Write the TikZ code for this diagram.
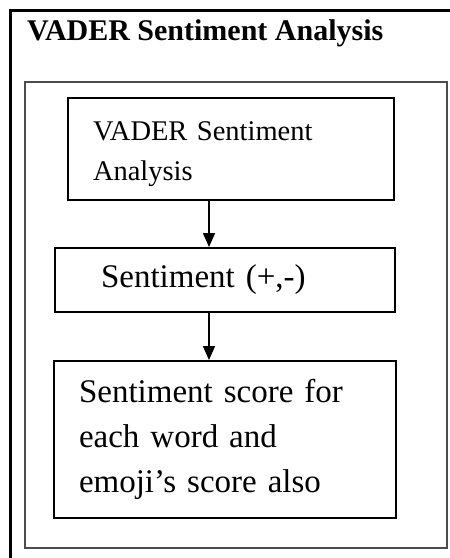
\documentclass[tikz,border=0pt]{standalone}
\usepackage{fontspec}
\setmainfont{Liberation Serif}
\usetikzlibrary{calc, arrows.meta}

\begin{document}
\begin{tikzpicture}[x=1pt, y=-1pt,
  stepbox/.style={draw, line width=2pt, anchor=north west, align=left, inner ysep=0pt},
  flow/.style={line width=1.5pt, -{Triangle[width=12pt, length=14pt]}}]
  \useasboundingbox (0,0) rectangle (450,558);
  \fill[white] (0,0) rectangle (450,558);
  \coordinate (ax) at (209,0);
  % outer frame, cut off by the page on the right and bottom
  \draw[line width=3pt] (10,10) rectangle (470,580);
  \node[anchor=base west, inner sep=0pt, font=\bfseries\fontsize{30}{34}\selectfont] (title) at (27,40) {VADER Sentiment Analysis};
  % inner frame
  \draw[line width=2.5pt, black!70] (25,82) rectangle (447,548);
  \node[stepbox, minimum width=326pt, minimum height=102pt, text width=276pt, inner xsep=25pt,
    font=\fontsize{28.5}{40}\selectfont] (vader) at (67,97) {\rule{0pt}{30pt}VADER Sentiment\\Analysis};
  \node[stepbox, minimum width=340pt, minimum height=64pt, text width=248pt, inner xsep=46pt,
    font=\fontsize{33}{40}\selectfont] (sent) at (54,247) {Sentiment (+,-)};
  \node[stepbox, minimum width=342pt, minimum height=157pt, text width=292pt, inner xsep=25pt,
    font=\fontsize{33}{45}\selectfont] (score) at (53,360) {Sentiment score for\\each word and\\emoji’s score also};
  \draw[flow] (vader.south -| ax) -- (sent.north -| ax);
  \draw[flow] (sent.south -| ax) -- (score.north -| ax);
\end{tikzpicture}
\end{document}
